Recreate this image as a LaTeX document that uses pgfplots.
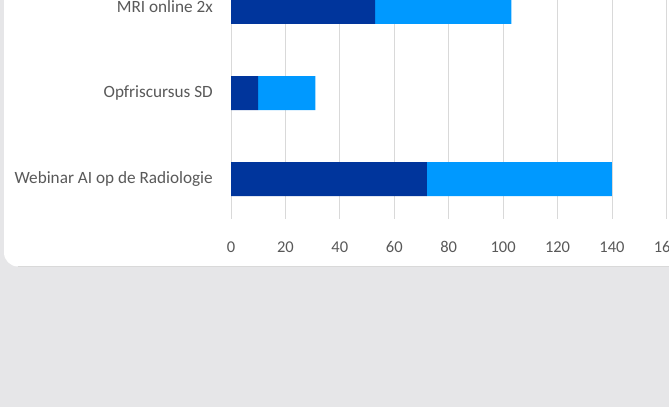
\documentclass[border=0pt]{standalone}
\usepackage{pgfplots}
\pgfplotsset{compat=1.18}
\usepackage{fontspec}
\setmainfont{Carlito}

\definecolor{darkblue}{HTML}{00359C}
\definecolor{lightblue}{HTML}{0099FF}
\definecolor{gridgray}{HTML}{D9D9D9}
\definecolor{labelgray}{HTML}{595959}
\definecolor{pagegray}{HTML}{E6E6E8}

\begin{document}
\begin{tikzpicture}
\useasboundingbox (0,0) rectangle (669pt,407pt);
\clip (0,0) rectangle (669pt,407pt);
\fill[pagegray] (0,0) rectangle (669pt,407pt);
\fill[white, rounded corners=14pt] (4pt,140.5pt) rectangle (720pt,460pt);
\draw[gray!30, line width=0.6pt] (18pt,140.5pt) -- (720pt,140.5pt);

\begin{axis}[
    at={(231pt,188pt)}, anchor=south west,
    scale only axis,
    width=435.4pt, height=263.6pt,
    xbar stacked,
    bar width=34pt,
    xmin=0, xmax=160,
    ymin=-0.465, ymax=2.6,
    xtick={0,20,...,160},
    ytick={0,1,2},
    yticklabels={Webinar AI op de Radiologie, Opfriscursus SD, MRI online 2x},
    axis line style={draw=none},
    major tick length=0pt,
    xmajorgrids=true,
    grid style={gridgray, line width=0.8pt},
    /pgf/number format/assume math mode=true,
    tick label style={text=labelgray},
    xticklabel style={font=\fontsize{16.5}{18}\selectfont, anchor=center, yshift=-28pt},
    yticklabel style={font=\fontsize{17.2}{19}\selectfont, anchor=east, inner sep=0pt, xshift=-18pt},
]
\addplot[fill=darkblue, draw=none] coordinates {(72,0) (10,1) (53,2)};
\addplot[fill=lightblue, draw=none] coordinates {(68,0) (21,1) (50,2)};
\end{axis}
\end{tikzpicture}
\end{document}
